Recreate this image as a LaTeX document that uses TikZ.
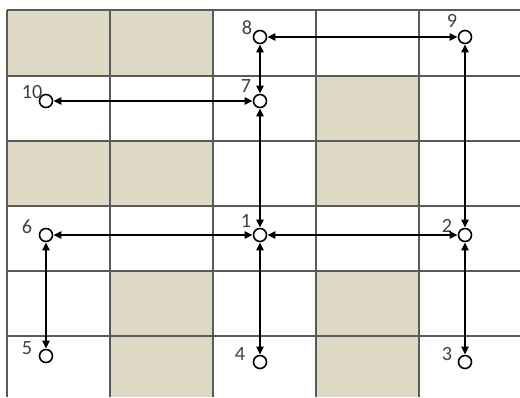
\documentclass[tikz,border=0pt]{standalone}
\usepackage{fontspec}
\setmainfont{Carlito}
\usetikzlibrary{arrows.meta}
\definecolor{cellshade}{HTML}{DDD9C4}
\definecolor{rulegray}{HTML}{5A5A5A}
\definecolor{taggray}{HTML}{404040}

\begin{document}
\begin{tikzpicture}[
  x=0.2mm,
  y=-0.2mm,
  line join=round,
  cell/.style={fill=cellshade,draw=none},
  gridrule/.style={draw=rulegray,line width=0.7pt},
  junction/.style={circle,draw=black,fill=white,line width=0.9pt,minimum size=2.6mm,inner sep=0pt},
  link/.style={draw=black,line width=1.3pt,{Triangle[length=1.6mm,width=1.4mm]}-{Triangle[length=1.6mm,width=1.4mm]}},
  tag/.style={text=taggray,font=\fontsize{11.5}{13}\selectfont,inner sep=0pt}
]
  \useasboundingbox (0,0) rectangle (520,397);

  % Shaded cells of the grid.
  \foreach \xa/\ya/\xb/\yb in {7/10/110/76,110/10/213/76,316/76/419/141,
      7/141/110/206,110/141/213/206,316/141/419/206,
      110/271/213/336,316/271/419/336,110/336/213/397,316/336/419/397} {
    \fill[cell] (\xa,\ya) rectangle (\xb,\yb);
  }

  % Grid lines.
  \foreach \gx in {7,110,213,316,419} {
    \draw[gridrule] (\gx,10) -- (\gx,397);
  }
  \foreach \gy in {10,76,141,206,271,336} {
    \draw[gridrule] (7,\gy) -- (520,\gy);
  }

  % Junctions.
  \node[junction] (n1) at (260,235) {};
  \node[junction] (n2) at (465,235) {};
  \node[junction] (n3) at (465,362) {};
  \node[junction] (n4) at (260,362) {};
  \node[junction] (n5) at (46,356) {};
  \node[junction] (n6) at (46,235) {};
  \node[junction] (n7) at (260,101) {};
  \node[junction] (n8) at (260,37) {};
  \node[junction] (n9) at (465,37) {};
  \node[junction] (n10) at (46,101) {};

  % Numbers beside the junctions.
  \node[tag] (t1) at (246,221) {1};
  \node[tag] (t2) at (447,226) {2};
  \node[tag] (t3) at (447,354) {3};
  \node[tag] (t4) at (240,354) {4};
  \node[tag] (t5) at (27,348) {5};
  \node[tag] (t6) at (27,227) {6};
  \node[tag] (t7) at (246,86) {7};
  \node[tag] (t8) at (247,28) {8};
  \node[tag] (t9) at (452,21) {9};
  \node[tag] (t10) at (32,92) {10};

  % Two-way links.
  \foreach \a/\b in {n8/n9,n8/n7,n10/n7,n7/n1,n6/n1,n1/n2,n1/n4,n9/n2,n2/n3,n6/n5} {
    \draw[link] (\a) -- (\b);
  }
\end{tikzpicture}
\end{document}
